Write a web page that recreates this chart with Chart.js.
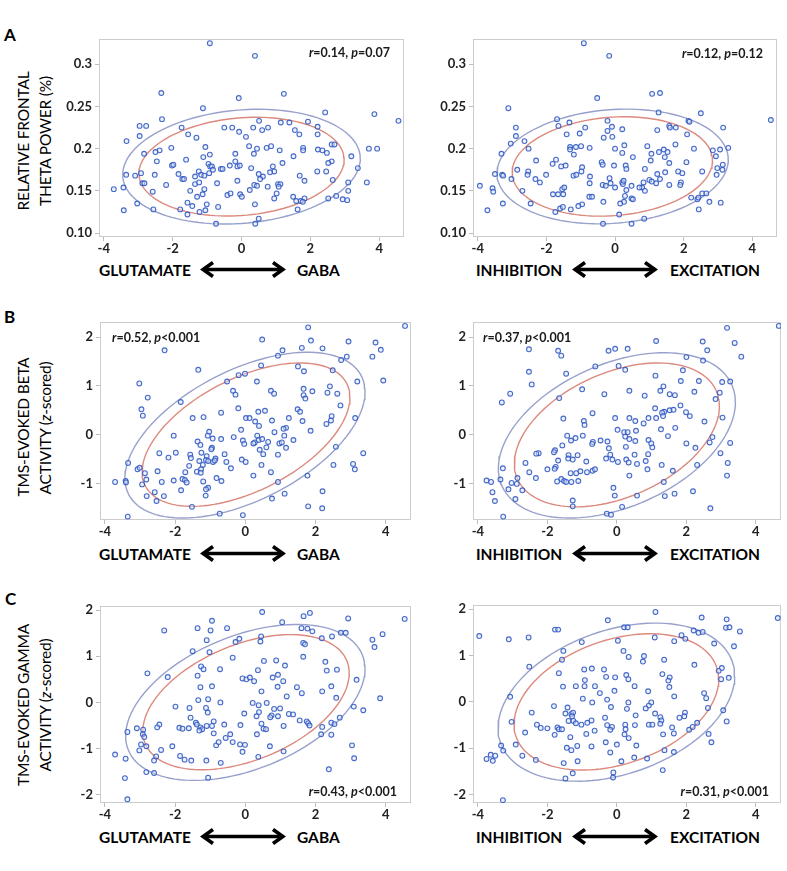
<!DOCTYPE html>
<html>
<head>
<meta charset="utf-8">
<script src="https://cdn.jsdelivr.net/npm/chart.js@4.4.1/dist/chart.umd.min.js"></script>
<style>
  body { margin: 0; width: 787px; height: 871px; background: #fff; position: relative; overflow: hidden; font-family: Lato, "Open Sans", sans-serif; color: #000; }
  canvas { position: absolute; }
  .t { position: absolute; white-space: nowrap; line-height: 1; }
  .letter { font-weight: bold; font-size: 17px; }
  .ytitle { font-size: 15.5px; transform: translate(-50%, -50%) rotate(-90deg); letter-spacing: -0.2px; }
  .xtitle { font-weight: bold; font-size: 15.5px; transform: translateY(-50%); }
  .arrow { position: absolute; transform: translateY(-50%); }
</style>
</head>
<body>
<div class="t letter" style="left:4px;top:26px">A</div>
<div class="t letter" style="left:4px;top:308px">B</div>
<div class="t letter" style="left:5px;top:590px">C</div>

<div class="t ytitle" style="left:24px;top:141px">RELATIVE FRONTAL</div>
<div class="t ytitle" style="left:46px;top:141px">THETA POWER (%)</div>
<div class="t ytitle" style="left:24px;top:427px">TMS-EVOKED BETA</div>
<div class="t ytitle" style="left:46px;top:428px">ACTIVITY (<i>z</i>-scored)</div>
<div class="t ytitle" style="left:24px;top:705px">TMS-EVOKED GAMMA</div>
<div class="t ytitle" style="left:46px;top:705px">ACTIVITY (<i>z</i>-scored)</div>

<canvas id="aLeft"></canvas>
<canvas id="aRight"></canvas>
<canvas id="bLeft"></canvas>
<canvas id="bRight"></canvas>
<canvas id="cLeft"></canvas>
<canvas id="cRight"></canvas>

<script>
// axis ticks
const xTicks = [-4, -2, 0, 2, 4];
const thetaTicks = [0.10, 0.15, 0.2, 0.25, 0.3];
const thetaTickLabels = ["0.10", "0.15", "0.2", "0.25", "0.3"];
const betaTicks = [-1, 0, 1, 2];
const gammaTicks = [-2, -1, 0, 1, 2];

// A: glutamate-GABA / inhibition-excitation vs relative frontal theta power
const aLeftPoints = [[-0.92,0.325],[0.39,0.31],[-2.33,0.266],[1.23,0.265],[-0.08,0.26],[-1.12,0.248],[2.43,0.243],[3.86,0.241],[4.56,0.233],[-2.31,0.235],[0.51,0.233],[1.39,0.231],[1.14,0.231],[1.93,0.232],[-2.96,0.227],[-2.77,0.227],[-1.74,0.225],[-0.5,0.225],[-0.27,0.225],[0.34,0.225],[0.6,0.222],[0.77,0.225],[1.55,0.222],[1.68,0.217],[2.21,0.226],[2.21,0.217],[-0.07,0.22],[-1.55,0.217],[0.13,0.214],[-2.96,0.215],[-1.31,0.213],[-3.34,0.209],[0.22,0.203],[0.45,0.2],[0.73,0.201],[0.86,0.203],[-1.05,0.202],[-2.04,0.201],[-2.38,0.198],[-2.5,0.196],[1.79,0.201],[1.79,0.198],[1.11,0.198],[2.22,0.199],[2.35,0.198],[2.48,0.195],[2.62,0.205],[2.7,0.205],[3.7,0.2],[3.94,0.2],[-2.83,0.194],[-0.92,0.193],[-0.18,0.194],[0.36,0.194],[-1.11,0.19],[1.51,0.191],[3.19,0.191],[-2.46,0.185],[-1.61,0.187],[-0.18,0.185],[2.62,0.185],[2.52,0.183],[-2.02,0.18],[-1.98,0.181],[-0.96,0.182],[-0.91,0.179],[-0.86,0.179],[-0.34,0.18],[-0.12,0.179],[-0.05,0.18],[1.19,0.183],[0.91,0.179],[3.38,0.177],[-1.24,0.173],[-0.83,0.175],[-0.6,0.176],[-0.55,0.176],[0.28,0.177],[0.95,0.173],[0.83,0.172],[-3.35,0.169],[-3.09,0.168],[-2.92,0.171],[-2.52,0.169],[-1.83,0.17],[-1.72,0.164],[-1.67,0.164],[-1.35,0.167],[-1.17,0.169],[-1.08,0.168],[-0.94,0.171],[0.5,0.17],[0.62,0.167],[0.54,0.164],[1.69,0.168],[2.2,0.173],[2.46,0.173],[2.65,0.163],[1.83,0.162],[-0.12,0.162],[-2.88,0.159],[-2.82,0.159],[-2.19,0.157],[-1.35,0.158],[-1.23,0.16],[-0.71,0.159],[0.37,0.157],[0.45,0.156],[0.76,0.155],[1.06,0.158],[1.13,0.158],[1.08,0.155],[3.1,0.16],[3.64,0.16],[-3.71,0.152],[-3.43,0.154],[-1.49,0.15],[-1.08,0.152],[-2.58,0.149],[0.24,0.151],[3.1,0.15],[-1.13,0.146],[-1.29,0.143],[-0.41,0.145],[-0.32,0.147],[-0.04,0.146],[0.01,0.143],[1.02,0.147],[1.5,0.143],[0.95,0.141],[1.83,0.141],[2.75,0.144],[2.52,0.141],[2.94,0.14],[3.07,0.139],[-3.03,0.135],[-1.57,0.136],[-1.01,0.134],[0.39,0.134],[1.59,0.138],[1.72,0.138],[1.78,0.137],[-1.43,0.132],[-0.68,0.131],[-3.42,0.127],[-2.56,0.128],[-1.78,0.128],[-1.22,0.125],[-1.05,0.127],[1.63,0.128],[0.5,0.117],[-0.74,0.111],[0.4,0.111],[-1.57,0.122]];

const aRightPoints = [[-0.91,0.325],[-0.17,0.31],[-0.52,0.26],[1.08,0.265],[1.31,0.266],[-3.11,0.248],[1.27,0.243],[2.5,0.242],[4.54,0.234],[-1.69,0.235],[-0.22,0.233],[-1.33,0.231],[-2.89,0.225],[-1.65,0.227],[-0.87,0.225],[-0.09,0.226],[0.21,0.223],[1.23,0.222],[1.58,0.227],[1.6,0.225],[1.77,0.225],[2.14,0.233],[2.17,0.232],[3.15,0.225],[-0.22,0.221],[2.1,0.217],[-2.89,0.215],[-1.41,0.217],[-1.03,0.218],[-0.33,0.213],[-0.08,0.214],[-2.64,0.209],[-3.04,0.206],[1.76,0.205],[-2.52,0.2],[-1.31,0.202],[-1.31,0.199],[-1.14,0.202],[-0.99,0.203],[-0.74,0.201],[0,0.2],[0.27,0.204],[0.94,0.203],[1.42,0.199],[1.53,0.196],[1.28,0.196],[2.3,0.2],[2.85,0.198],[3.06,0.199],[3.3,0.201],[-3.31,0.194],[-1.2,0.193],[0.21,0.195],[1.06,0.194],[1.45,0.19],[0.52,0.19],[2.94,0.191],[-1.72,0.187],[-2.3,0.186],[-0.39,0.184],[1.04,0.186],[1.58,0.183],[2.08,0.184],[-1.82,0.182],[-1.57,0.179],[-1.44,0.18],[-0.36,0.181],[-0.03,0.18],[0.31,0.18],[0.33,0.176],[0.87,0.176],[3.14,0.181],[2.98,0.177],[-3.5,0.17],[-3.29,0.169],[-3.26,0.168],[-2.85,0.175],[-2.53,0.173],[-2.55,0.169],[-2.01,0.169],[-0.96,0.178],[-0.98,0.173],[-1.21,0.168],[-1.13,0.169],[-0.73,0.167],[-0.16,0.165],[1.46,0.172],[1.23,0.17],[1.84,0.173],[1.96,0.171],[2.54,0.173],[3.13,0.175],[2.96,0.169],[-3.02,0.164],[-2.32,0.164],[-2.19,0.16],[-0.74,0.159],[-0.36,0.157],[-0.27,0.156],[-0.13,0.159],[0,0.154],[0.21,0.16],[0.23,0.158],[0.25,0.162],[0.33,0.151],[0.48,0.156],[0.79,0.154],[0.83,0.16],[1.0,0.163],[1.07,0.161],[1.2,0.159],[1.31,0.164],[1.58,0.157],[1.92,0.16],[1.9,0.157],[-3.57,0.153],[-3.55,0.149],[-3.94,0.156],[-2.7,0.15],[-1.54,0.152],[-1.48,0.154],[-1.81,0.146],[-1.66,0.146],[-1.51,0.146],[-0.75,0.143],[-0.67,0.143],[0.29,0.144],[0.71,0.154],[0.87,0.15],[0.48,0.141],[0.52,0.14],[2.22,0.142],[2.4,0.14],[2.43,0.142],[2.54,0.147],[2.66,0.147],[-3.27,0.135],[-2.46,0.135],[-0.34,0.137],[0.26,0.137],[0.15,0.135],[2.75,0.137],[3.08,0.136],[-0.96,0.134],[-1.07,0.132],[-3.72,0.127],[-1.6,0.129],[-1.52,0.131],[-1.74,0.125],[-1.29,0.128],[2.44,0.128],[0.12,0.122],[0.85,0.117],[-0.35,0.111],[0.48,0.111]];

// B: vs TMS-evoked beta activity (z-scored)
const bLeftPoints = [[4.55,2.23],[1.79,2.2],[0.48,1.95],[1.87,1.93],[2.94,1.91],[3.71,1.89],[-2.3,1.73],[1.06,1.73],[1.61,1.78],[2.2,1.77],[3.86,1.74],[0.93,1.62],[2.89,1.6],[3.62,1.6],[2.73,1.53],[0.45,1.42],[1.5,1.4],[-1.34,1.33],[2.49,1.32],[1.67,1.3],[-0.01,1.25],[-0.19,1.22],[-0.52,1.09],[0.33,1.09],[3.19,1.09],[3.93,1.11],[-3.02,1.05],[2.41,0.99],[-0.35,0.9],[0.73,0.9],[1.66,0.94],[1.91,0.89],[2.34,0.86],[2.62,0.84],[-0.28,0.82],[0.82,0.84],[1.66,0.81],[1.71,0.74],[-2.78,0.76],[-1.84,0.67],[2.71,0.6],[-0.2,0.54],[-2.96,0.52],[-2.92,0.39],[-0.69,0.45],[0.37,0.47],[0.56,0.49],[1.49,0.52],[1.56,0.47],[2.46,0.38],[-1.5,0.34],[-1.19,0.36],[0.02,0.34],[0.12,0.34],[1.24,0.34],[2.44,0.29],[3.13,0.34],[0.76,0.29],[0.28,0.27],[0.39,0.18],[1.63,0.28],[2.31,0.22],[1.16,0.14],[1.09,0.12],[-0.12,0.1],[-1.03,0.06],[1.86,0.08],[0.83,0.05],[-2.04,-0.02],[-1.07,-0.02],[0.34,-0.02],[1.11,-0.02],[-0.33,-0.05],[-0.93,-0.08],[-0.69,-0.09],[0.38,-0.11],[-0.07,-0.12],[0.48,-0.09],[1.37,-0.11],[0.65,-0.15],[-1.36,-0.14],[-1.28,-0.21],[-0.03,-0.19],[0.27,-0.16],[0.97,-0.18],[1.04,-0.16],[0.23,-0.18],[0.6,-0.26],[1.16,-0.27],[-0.95,-0.27],[2.58,-0.25],[-0.97,-0.3],[0.41,-0.31],[-1.25,-0.37],[-1.98,-0.37],[-2.45,-0.38],[3.36,-0.38],[-0.59,-0.4],[0.51,-0.4],[-1.57,-0.41],[0.93,-0.41],[-1.55,-0.48],[-2.19,-0.47],[-1.1,-0.44],[-1.12,-0.52],[-0.85,-0.49],[-0.92,-0.56],[-0.87,-0.53],[-0.1,-0.51],[0.01,-0.56],[-3.34,-0.58],[-1.31,-0.54],[-1.06,-0.54],[-0.54,-0.56],[-1.21,-0.62],[0.46,-0.62],[2.51,-0.62],[3.07,-0.6],[-1.6,-0.64],[-0.41,-0.69],[-3.07,-0.71],[-3.01,-0.68],[-1.26,-0.71],[3.12,-0.71],[-2.5,-0.75],[-1.38,-0.76],[-1.71,-0.77],[-1.27,-0.78],[0.73,-0.77],[-2.86,-0.79],[0.23,-0.84],[1.77,-0.84],[-0.82,-0.89],[-2.82,-0.92],[-1.79,-0.91],[-1.72,-0.93],[-1.2,-0.96],[-0.68,-0.95],[-2.04,-0.94],[-2.38,-0.97],[-3.71,-0.97],[-3.41,-0.95],[-3.4,-0.98],[-1.67,-0.98],[0.93,-0.97],[-2.94,-1.02],[-1.83,-1.14],[-1.06,-1.09],[-1.12,-1.12],[-2.58,-1.18],[1.12,-1.21],[2.2,-1.16],[-1.13,-1.25],[-2.32,-1.26],[-2.81,-1.26],[-2.53,-1.36],[0.76,-1.31],[-1.52,-1.48],[1.79,-1.47],[2.19,-1.51],[-0.73,-1.62],[-0.07,-1.65],[-3.35,-1.68]];

const bRightPoints = [[4.66,2.23],[3.17,2.19],[1.13,1.92],[2.47,1.91],[3.39,1.88],[-2.53,1.75],[-1.69,1.72],[-1.6,1.62],[-0.24,1.72],[-0.05,1.76],[0.31,1.76],[2.6,1.73],[3.58,1.6],[2.0,1.59],[2.48,1.52],[-0.62,1.4],[0.05,1.41],[0.24,1.33],[1.9,1.32],[-2.53,1.29],[-1.46,1.25],[1.11,1.21],[1.84,1.1],[2.36,1.1],[3.26,1.09],[3.03,1.08],[-2.45,1.03],[1.34,0.99],[-1.0,0.93],[0.36,0.9],[1.25,0.9],[2.23,0.88],[2.96,0.86],[-3.07,0.84],[-0.36,0.83],[1.52,0.83],[1.67,0.81],[0.8,0.8],[-1.66,0.75],[2.84,0.73],[-3.31,0.66],[1.83,0.6],[1.1,0.54],[1.36,0.47],[1.3,0.45],[1.52,0.5],[1.63,0.51],[1.99,0.46],[2.1,0.38],[1.33,0.38],[-0.7,0.44],[-1.54,0.33],[-0.05,0.34],[0.36,0.34],[0.91,0.34],[1.13,0.34],[0.53,0.28],[-0.95,0.28],[-0.93,0.2],[0.77,0.23],[2.52,0.27],[3.04,0.35],[1.27,0.11],[1.68,0.14],[0.02,0.1],[0.55,0.08],[0.21,0.05],[0.31,0.05],[-0.98,-0.02],[-1.43,-0.02],[1.47,-0.03],[2.75,-0.05],[0.24,-0.04],[0.36,-0.09],[0.91,-0.11],[-0.47,-0.12],[-0.27,-0.14],[0.53,-0.13],[0.99,-0.18],[1.02,-0.26],[-0.69,-0.15],[-0.71,-0.19],[-1.32,-0.12],[-1.19,-0.07],[-1.57,-0.22],[2.0,-0.18],[2.67,-0.16],[3.26,-0.17],[-0.23,-0.28],[0.26,-0.25],[2.26,-0.27],[-1.78,-0.32],[-1.81,-0.36],[-2.25,-0.38],[-2.32,-0.39],[-1.39,-0.42],[-1.13,-0.42],[-0.19,-0.41],[0.51,-0.41],[0.9,-0.4],[2.98,-0.38],[-1.4,-0.49],[-1.27,-0.51],[-0.31,-0.49],[-0.13,-0.51],[0.27,-0.51],[0.34,-0.57],[0.03,-0.56],[-0.88,-0.55],[0.83,-0.54],[-1.69,-0.53],[-2.63,-0.58],[0.58,-0.6],[1.29,-0.62],[2.31,-0.62],[3.19,-0.58],[-1.76,-0.66],[-1.79,-0.7],[-2.0,-0.71],[-3.28,-0.69],[-1.05,-0.75],[-1.33,-0.79],[-1.17,-0.79],[-0.86,-0.77],[-0.7,-0.74],[-0.63,-0.71],[0.88,-0.71],[1.61,-0.74],[-2.52,-0.77],[0.36,-0.84],[3.17,-0.84],[-2.86,-0.89],[-2.33,-0.89],[-1.6,-0.91],[-1.52,-0.95],[-1.46,-0.97],[-1.72,-0.96],[-1.31,-0.97],[-1.11,-0.95],[-3.35,-0.92],[-3.75,-0.94],[-3.62,-0.97],[-3.03,-0.99],[-2.88,-1.01],[1.35,-0.97],[-3.12,-1.12],[-2.72,-1.14],[-3.58,-1.18],[-0.1,-1.09],[-3.51,-1.36],[-2.92,-1.32],[-1.27,-1.35],[-1.27,-1.47],[-0.06,-1.25],[0.58,-1.25],[1.38,-1.26],[1.66,-1.21],[2.19,-1.16],[0.15,-1.48],[-0.29,-1.62],[-0.17,-1.64],[2.69,-1.51],[-3.27,-1.68]];

// C: vs TMS-evoked gamma activity (z-scored)
const cLeftPoints = [[0.48,1.96],[1.84,1.94],[4.54,1.81],[2.93,1.82],[1.66,1.87],[-0.95,1.77],[1.05,1.74],[-1.36,1.61],[-0.52,1.61],[-0.99,1.56],[-2.31,1.56],[1.6,1.61],[1.77,1.6],[1.91,1.54],[2.72,1.51],[2.86,1.51],[0.45,1.43],[2.47,1.43],[-0.17,1.38],[0.43,1.32],[-1.1,1.35],[-0.28,1.31],[3.62,1.36],[2.18,1.39],[3.91,1.48],[1.65,1.29],[1.7,1.26],[3.68,1.2],[-1.5,1.11],[-1.02,1.09],[-0.36,0.97],[1.65,0.99],[0.53,0.9],[0.88,0.91],[2.28,0.88],[1.13,0.8],[-1.26,0.78],[-1.19,0.72],[-0.72,0.72],[0.36,0.7],[2.32,0.69],[2.61,0.71],[-2.79,0.63],[-2.21,0.55],[-1.36,0.58],[-0.08,0.52],[0.03,0.5],[0.13,0.54],[0.25,0.46],[0.93,0.6],[0.78,0.54],[1.08,0.46],[3.17,0.49],[-1.28,0.33],[-0.95,0.35],[0.92,0.34],[1.47,0.33],[2.19,0.24],[0.46,0.24],[2.45,0.35],[1.61,0.2],[1.18,0.13],[2.59,0.1],[3.84,0.09],[-1.34,0.05],[-1.06,0.07],[-0.71,0],[0.21,-0.01],[0.61,-0.01],[0.38,-0.06],[-1.99,-0.09],[-1.59,-0.12],[-1.12,-0.12],[0.82,-0.14],[0.99,-0.13],[3.09,-0.09],[3.36,-0.17],[-1.07,-0.22],[-0.03,-0.24],[0.39,-0.21],[1.24,-0.25],[1.36,-0.26],[0.75,-0.28],[0.71,-0.32],[0.93,-0.3],[0.32,-0.3],[-1.56,-0.33],[2.69,-0.33],[1.55,-0.39],[1.75,-0.41],[1.79,-0.45],[1.83,-0.5],[-1.41,-0.44],[-1.38,-0.48],[-0.9,-0.41],[-0.6,-0.48],[-0.14,-0.49],[0.46,-0.46],[2.45,-0.44],[2.54,-0.47],[-2.45,-0.48],[-2.51,-0.54],[-1.88,-0.55],[-1.79,-0.57],[-1.61,-0.56],[-1.28,-0.54],[-1.23,-0.58],[-1.1,-0.51],[-1.31,-0.61],[-0.95,-0.51],[-0.9,-0.67],[0.52,-0.57],[0.59,-0.58],[1.09,-0.51],[2.19,-0.53],[-3.09,-0.56],[-2.91,-0.59],[-3.36,-0.64],[-2.92,-0.69],[-2.88,-0.75],[-0.43,-0.69],[-0.56,-0.77],[0.33,-0.69],[2.16,-0.69],[2.45,-0.7],[-0.83,-0.93],[-0.76,-0.86],[-0.36,-0.86],[-0.15,-0.91],[-0.01,-0.92],[-2.97,-0.91],[-2.82,-0.95],[-2.08,-0.95],[0.7,-0.95],[3.04,-0.93],[-2.4,-1.03],[-3.02,-1.04],[-0.08,-1.07],[1.09,-1.06],[-3.71,-1.13],[-1.86,-1.16],[-2.54,-1.17],[0.37,-1.18],[3.1,-1.21],[-3.41,-1.22],[-1.73,-1.24],[-1.54,-1.26],[-1.11,-1.26],[-2.6,-1.26],[-0.7,-1.31],[-2.82,-1.51],[-2.6,-1.53],[2.38,-1.45],[-3.43,-1.64],[-1.06,-1.63],[-3.36,-2.1]];

const cRightPoints = [[1.11,1.94],[4.63,1.81],[2.44,1.82],[3.16,1.78],[-0.26,1.76],[-3.96,1.42],[-1.78,1.56],[-1.69,1.56],[0.21,1.61],[0.31,1.61],[3.14,1.6],[3.24,1.61],[3.54,1.52],[2.21,1.54],[2.35,1.49],[2.47,1.51],[1.86,1.44],[1.09,1.39],[1.97,1.36],[-3.11,1.35],[-2.54,1.39],[-1.01,1.29],[0.03,1.32],[1.65,1.31],[2.8,1.26],[3.37,1.2],[-1.54,1.1],[0.19,1.1],[0.78,0.99],[0.34,0.97],[-1.58,0.91],[1.36,0.91],[0.75,0.87],[-2.52,0.76],[2.23,0.8],[-0.94,0.7],[-0.72,0.72],[-0.37,0.7],[3.02,0.73],[2.93,0.67],[-1.67,0.62],[1.31,0.6],[0.27,0.58],[-0.31,0.54],[-0.05,0.53],[1.52,0.53],[0.33,0.49],[1.48,0.46],[-0.92,0.47],[3.0,0.49],[3.22,0.52],[-0.63,0.34],[-1.55,0.33],[-1.18,0.34],[-0.93,0.34],[0.51,0.34],[1.51,0.32],[-0.07,0.24],[0.9,0.23],[-0.49,0.19],[2.51,0.19],[1.65,0.12],[-3.07,0.11],[2.57,0.08],[-0.98,0.07],[-0.28,0.05],[0.33,-0.01],[0.99,-0.01],[-0.71,-0.01],[0.92,-0.08],[0.83,-0.14],[0.29,-0.15],[-1.81,-0.09],[-1.42,-0.12],[-0.17,-0.11],[2.62,-0.13],[3.06,-0.18],[-2.45,-0.23],[-1.48,-0.25],[-1.31,-0.26],[-1.26,-0.23],[-1.29,-0.31],[1.1,-0.25],[1.96,-0.23],[1.94,-0.31],[1.8,-0.34],[0.54,-0.29],[-0.34,-0.34],[1.25,-0.33],[1.28,-0.4],[-3.03,-0.43],[-1.39,-0.41],[-1.25,-0.41],[3.16,-0.42],[-0.73,-0.4],[-1.18,-0.46],[-0.85,-0.45],[-1.02,-0.49],[1.25,-0.47],[0.92,-0.49],[1.02,-0.49],[2.31,-0.45],[-2.3,-0.49],[-2.19,-0.56],[-2.0,-0.57],[-1.71,-0.55],[-1.67,-0.59],[-1.58,-0.59],[-0.28,-0.5],[-0.14,-0.54],[-0.19,-0.6],[0.24,-0.49],[0.25,-0.59],[0.52,-0.5],[1.59,-0.55],[2.08,-0.6],[2.18,-0.54],[-0.64,-0.62],[-2.64,-0.66],[-1.79,-0.71],[-1.34,-0.76],[-0.88,-0.69],[0.22,-0.7],[0.34,-0.78],[1.33,-0.7],[1.64,-0.68],[2.64,-0.69],[2.72,-0.87],[-0.32,-0.87],[-0.73,-0.96],[0,-0.92],[0.56,-0.94],[-2.91,-0.92],[-3.33,-0.94],[-3.27,-1.05],[-1.44,-0.99],[-1.14,-0.95],[-1.31,-1.04],[1.37,-1.04],[-0.19,-1.09],[1.64,-1.08],[-2.72,-1.16],[-3.63,-1.14],[-3.5,-1.16],[-3.75,-1.23],[-3.57,-1.27],[-2.33,-1.25],[-1.13,-1.28],[0.13,-1.28],[0.5,-1.2],[0.87,-1.22],[-1.53,-1.32],[-1.27,-1.54],[-0.1,-1.52],[1.32,-1.47],[-1.48,-1.65],[-0.11,-1.63],[-3.28,-2.12]];

// ellipses: [centre x, centre y, half width, half height, tilt (r)]
const aLeftInner = [0, 0.1787, 2.98, 0.0585, 0.14];
const aLeftOuter = [0, 0.1787, 3.45, 0.068, 0.14];
const aRightInner = [-0.08, 0.1789, 2.92, 0.0589, 0.12];
const aRightOuter = [-0.07, 0.1789, 3.37, 0.068, 0.12];
const bLeftInner = [0.02, 0, 2.96, 1.47, 0.52];
const bLeftOuter = [-0.01, -0.01, 3.42, 1.70, 0.52];
const bRightInner = [0, -0.005, 2.95, 1.475, 0.4];
const bRightOuter = [0, -0.015, 3.41, 1.695, 0.4];
const cLeftInner = [0.02, 0.005, 2.94, 1.465, 0.43];
const cLeftOuter = [0, 0, 3.41, 1.69, 0.43];
const cRightInner = [-0.015, 0, 2.945, 1.47, 0.33];
const cRightOuter = [-0.015, -0.005, 3.405, 1.705, 0.33];

const FONT = "Lato, 'Open Sans', sans-serif";

function ellipsePoints(e) {
  const [cx, cy, rx, ry, rho] = e;
  const phi = Math.acos(rho);
  const pts = [];
  for (let i = 0; i <= 120; i++) {
    const t = i / 120 * 2 * Math.PI;
    pts.push({ x: cx + rx * Math.cos(t), y: cy + ry * Math.cos(t - phi) });
  }
  return pts;
}

// frame round the plot and the r / p note
const framePlugin = {
  id: "frame",
  beforeDatasetsDraw(chart) {
    const { ctx, chartArea: a } = chart;
    ctx.save();
    ctx.strokeStyle = "#cccccc";
    ctx.lineWidth = 1;
    ctx.strokeRect(a.left + 0.5, a.top + 0.5, a.right - a.left - 1, a.bottom - a.top - 1);
    ctx.restore();
  },
  afterDraw(chart, args, opts) {
    const n = opts.note;
    if (!n) return;
    const { ctx, chartArea: a } = chart;
    const parts = [
      ["r", "italic bold"], ["=" + n.r + ", ", "bold"], ["p", "italic bold"], [n.p, "bold"]
    ];
    ctx.save();
    ctx.fillStyle = "#1a1a1a";
    ctx.textBaseline = "middle";
    let total = 0;
    parts.forEach(p => { ctx.font = p[1] + " 12.5px " + FONT; total += ctx.measureText(p[0]).width; });
    let x = n.align === "right" ? a.right - n.dx - total : a.left + n.dx;
    const y = n.from === "bottom" ? a.bottom - n.dy : a.top + n.dy;
    parts.forEach(p => {
      ctx.font = p[1] + " 12.5px " + FONT;
      ctx.fillText(p[0], x, y);
      x += ctx.measureText(p[0]).width;
    });
    ctx.restore();
  }
};

function makePanel(id, pos, points, inner, outer, yTicks, yLabels, yMin, yMax, note) {
  const canvas = document.getElementById(id);
  canvas.width = pos.w;
  canvas.height = pos.h;
  canvas.style.left = pos.left + "px";
  canvas.style.top = pos.top + "px";
  canvas.style.width = pos.w + "px";
  canvas.style.height = pos.h + "px";

  const tickFont = { family: FONT, size: 13, weight: "bold" };
  new Chart(canvas.getContext("2d"), {
    type: "scatter",
    data: {
      datasets: [
        {
          data: points.map(p => ({ x: p[0], y: p[1] })),
          pointStyle: "circle",
          pointRadius: 2.4,
          borderWidth: 1.1,
          borderColor: "rgba(50, 90, 195, 0.9)",
          backgroundColor: "rgba(220, 228, 250, 0.5)",
          order: 0
        },
        {
          data: ellipsePoints(inner),
          showLine: true,
          pointRadius: 0,
          borderColor: "#dc8a7e",
          borderWidth: 1.4,
          tension: 0,
          order: 1
        },
        {
          data: ellipsePoints(outer),
          showLine: true,
          pointRadius: 0,
          borderColor: "#98a1cc",
          borderWidth: 1.4,
          tension: 0,
          order: 2
        }
      ]
    },
    options: {
      responsive: false,
      animation: false,
      layout: { padding: { left: 0, top: 6, right: pos.pr, bottom: 0 } },
      plugins: { legend: { display: false }, tooltip: { enabled: false }, frame: { note: note } },
      scales: {
        x: {
          type: "linear",
          min: -4.14,
          max: 4.72,
          afterBuildTicks: axis => { axis.ticks = xTicks.map(v => ({ value: v })); },
          afterFit: s => { s.height = 22; s.paddingLeft = 0; s.paddingRight = 0; },
          grid: { display: true, drawOnChartArea: false, drawTicks: true, tickLength: 4, color: "#bdbdbd" },
          border: { display: false },
          ticks: { font: tickFont, color: "#222", padding: 0, maxRotation: 0 }
        },
        y: {
          type: "linear",
          min: yMin,
          max: yMax,
          afterBuildTicks: axis => { axis.ticks = yTicks.map(v => ({ value: v })); },
          afterFit: s => { s.width = 46; s.paddingTop = 0; s.paddingBottom = 0; },
          grid: { display: true, drawOnChartArea: false, drawTicks: true, tickLength: 4, color: "#bdbdbd" },
          border: { display: false },
          ticks: {
            font: tickFont,
            color: "#222",
            padding: 3,
            callback: v => yLabels ? yLabels[yTicks.indexOf(v)] : String(v)
          }
        }
      }
    },
    plugins: [framePlugin]
  });
}

makePanel("aLeft", { left: 53, top: 33, w: 357, h: 226, pr: 6 }, aLeftPoints, aLeftInner, aLeftOuter,
  thetaTicks, thetaTickLabels, 0.0953, 0.33, { r: "0.14", p: "=0.07", align: "right", dx: 14, from: "top", dy: 14 });
makePanel("aRight", { left: 427, top: 33, w: 356, h: 226, pr: 6 }, aRightPoints, aRightInner, aRightOuter,
  thetaTicks, thetaTickLabels, 0.0953, 0.33, { r: "0.12", p: "=0.12", align: "right", dx: 14, from: "top", dy: 15 });
makePanel("bLeft", { left: 54, top: 316, w: 363, h: 226, pr: 6 }, bLeftPoints, bLeftInner, bLeftOuter,
  betaTicks, null, -1.75, 2.31, { r: "0.52", p: "<0.001", align: "left", dx: 12, from: "top", dy: 16 });
makePanel("bRight", { left: 427, top: 316, w: 359, h: 226, pr: 4 }, bRightPoints, bRightInner, bRightOuter,
  betaTicks, null, -1.75, 2.31, { r: "0.37", p: "<0.001", align: "left", dx: 10, from: "top", dy: 16 });
makePanel("cLeft", { left: 54, top: 600, w: 363, h: 225, pr: 6 }, cLeftPoints, cLeftInner, cLeftOuter,
  gammaTicks, null, -2.18, 2.09, { r: "0.43", p: "<0.001", align: "right", dx: 14, from: "bottom", dy: 11 });
makePanel("cRight", { left: 427, top: 599, w: 359, h: 226, pr: 4 }, cRightPoints, cRightInner, cRightOuter,
  gammaTicks, null, -2.18, 2.09, { r: "0.31", p: "<0.001", align: "right", dx: 12, from: "bottom", dy: 11 });

// x axis titles with double arrows
const xTitleRows = [271, 555, 838];
const leftTitles = ["GLUTAMATE", "GABA"];
const rightTitles = ["INHIBITION", "EXCITATION"];
const arrowSvg = '<svg width="86" height="18" viewBox="0 0 86 18"><line x1="4" y1="9" x2="82" y2="9" stroke="#000" stroke-width="3.6"/>' +
  '<polyline points="13,2 3,9 13,16" fill="none" stroke="#000" stroke-width="3.6" stroke-linejoin="miter"/>' +
  '<polyline points="73,2 83,9 73,16" fill="none" stroke="#000" stroke-width="3.6" stroke-linejoin="miter"/></svg>';

xTitleRows.forEach(y => {
  [[99, 200, 297, leftTitles], [476, 572, 670, rightTitles]].forEach(([x1, xa, x2, words]) => {
    const a = document.createElement("div");
    a.className = "t xtitle";
    a.style.left = x1 + "px"; a.style.top = y + "px";
    a.textContent = words[0];
    document.body.appendChild(a);
    const ar = document.createElement("div");
    ar.className = "arrow";
    ar.style.left = xa + "px"; ar.style.top = y + "px";
    ar.innerHTML = arrowSvg;
    document.body.appendChild(ar);
    const b = document.createElement("div");
    b.className = "t xtitle";
    b.style.left = x2 + "px"; b.style.top = y + "px";
    b.textContent = words[1];
    document.body.appendChild(b);
  });
});
</script>
</body>
</html>
